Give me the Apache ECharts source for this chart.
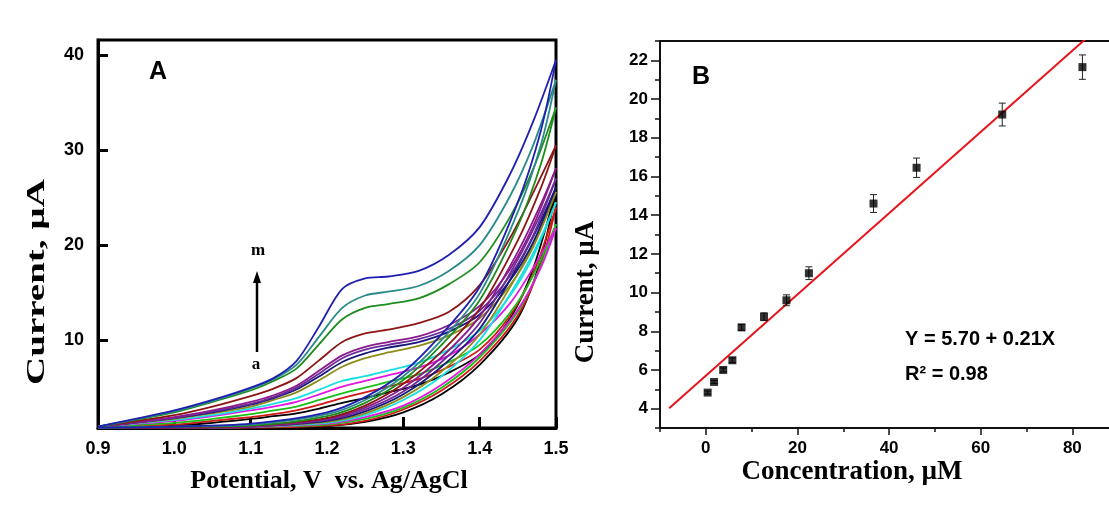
<!DOCTYPE html>
<html><head><meta charset="utf-8">
<script src="https://cdn.jsdelivr.net/npm/echarts@6/dist/echarts.min.js"></script>
<style>html,body{margin:0;padding:0;background:#fff}#c{width:1109px;height:508px}</style>
</head><body><div id="c"></div>
<script>
// ---------- Panel A: cyclic voltammograms (a .. m) ----------
const POTENTIAL_FWD = [0.90, 1.00, 1.05, 1.10, 1.13, 1.16, 1.19, 1.22, 1.25, 1.28, 1.32, 1.36, 1.40, 1.44, 1.47, 1.50];
const POTENTIAL_REV = [1.50, 1.48, 1.45, 1.40, 1.35, 1.30, 1.25, 1.20, 1.10, 1.00, 0.90];

const CV_A_FWD = [0.9, 1.0, 1.3, 1.7, 2.0, 2.3, 2.8, 3.4, 3.9, 4.5, 5.3, 6.6, 8.5, 12.3, 17.5, 25.8];
const CV_B_FWD = [0.9, 1.1, 1.5, 1.9, 2.2, 2.6, 3.2, 3.9, 4.5, 5.1, 5.9, 7.2, 9.0, 12.6, 17.0, 24.0];
const CV_C_FWD = [0.9, 1.3, 1.7, 2.2, 2.6, 3.0, 3.7, 4.4, 5.0, 5.6, 6.4, 7.7, 9.5, 12.9, 16.8, 22.2];
const CV_D_FWD = [0.9, 1.5, 2.0, 2.6, 3.0, 3.5, 4.3, 5.1, 5.7, 6.3, 7.1, 8.4, 10.6, 13.9, 17.6, 21.8];
const CV_E_FWD = [0.9, 1.6, 2.1, 2.8, 3.3, 3.9, 4.8, 5.7, 6.2, 6.8, 7.6, 9.0, 11.0, 14.7, 18.8, 24.5];
const CV_F_FWD = [0.9, 1.7, 2.3, 3.0, 3.7, 4.5, 5.8, 7.2, 8.1, 8.7, 9.4, 10.5, 12.3, 15.8, 19.8, 25.6];
const CV_G_FWD = [0.9, 1.8, 2.4, 3.2, 3.9, 4.8, 6.2, 7.7, 8.6, 9.2, 9.8, 10.9, 12.7, 16.3, 20.3, 26.1];
const CV_H_FWD = [0.9, 1.8, 2.5, 3.3, 4.0, 5.0, 6.5, 8.1, 9.0, 9.5, 10.1, 11.2, 13.1, 16.8, 21.0, 27.0];
const CV_I_FWD = [0.9, 1.9, 2.6, 3.5, 4.2, 5.2, 6.8, 8.4, 9.3, 9.8, 10.4, 11.6, 13.6, 17.5, 22.0, 28.1];
const CV_J_FWD = [0.9, 2.1, 3.0, 4.1, 4.9, 6.0, 7.9, 9.8, 10.7, 11.1, 11.8, 13.0, 15.8, 20.8, 25.5, 30.5];
const CV_K_FWD = [0.9, 2.4, 3.5, 4.7, 5.7, 7.0, 9.6, 12.2, 13.4, 13.8, 14.4, 15.9, 18.2, 23.0, 28.0, 34.5];
const CV_L_FWD = [0.9, 2.5, 3.6, 4.9, 5.9, 7.4, 10.4, 13.4, 14.7, 15.1, 15.7, 17.3, 20.0, 25.2, 30.5, 37.4];
const CV_M_FWD = [0.9, 2.6, 3.7, 5.0, 6.0, 7.8, 11.5, 15.4, 16.5, 16.7, 17.3, 19.0, 21.9, 27.5, 33.0, 39.5];

const CV_A_REV = [25.8, 18.5, 12.3, 7.4, 4.3, 2.4, 1.4, 0.95, 0.8, 0.8, 0.8];
const CV_B_REV = [24.0, 18.0, 12.6, 7.8, 4.7, 2.7, 1.5, 1.0, 0.8, 0.8, 0.8];
const CV_C_REV = [22.2, 17.8, 13.0, 8.2, 5.0, 2.9, 1.7, 1.1, 0.85, 0.8, 0.8];
const CV_D_REV = [21.8, 17.6, 13.2, 8.5, 5.3, 3.1, 1.9, 1.2, 0.85, 0.8, 0.8];
const CV_E_REV = [24.5, 20.8, 16.2, 10.0, 6.2, 3.7, 2.1, 1.3, 0.9, 0.8, 0.8];
const CV_F_REV = [25.6, 21.8, 17.0, 10.6, 6.7, 4.0, 2.3, 1.4, 0.9, 0.8, 0.8];
const CV_G_REV = [26.1, 22.5, 17.8, 11.2, 7.2, 4.3, 2.5, 1.5, 0.9, 0.8, 0.8];
const CV_H_REV = [27.0, 23.3, 18.5, 11.8, 7.7, 4.6, 2.7, 1.6, 0.9, 0.8, 0.8];
const CV_I_REV = [28.1, 24.3, 19.3, 12.5, 8.2, 5.0, 2.9, 1.7, 0.9, 0.8, 0.8];
const CV_J_REV = [30.5, 26.0, 20.5, 13.3, 8.8, 5.4, 3.1, 1.8, 1.0, 0.8, 0.8];
const CV_K_REV = [34.5, 28.5, 22.0, 14.2, 9.5, 5.8, 3.4, 2.0, 1.0, 0.9, 0.8];
const CV_L_REV = [37.4, 30.5, 23.5, 14.9, 10.0, 6.2, 3.7, 2.2, 1.1, 0.9, 0.8];
const CV_M_REV = [39.5, 32.0, 24.5, 15.6, 10.6, 6.6, 4.0, 2.4, 1.2, 0.9, 0.8];

const A_Y_TICKS = [10, 20, 30, 40];

// ---------- Panel B: calibration ----------
const CONC = [0.4, 1.8, 3.8, 5.8, 7.8, 12.7, 17.6, 22.5, 36.6, 46.0, 64.7, 82.2];
const CURRENT = [4.83, 5.38, 6.0, 6.5, 8.2, 8.75, 9.6, 11.0, 14.6, 16.45, 19.2, 21.65];
const CURRENT_ERR = [0.08, 0.08, 0.1, 0.12, 0.15, 0.2, 0.28, 0.33, 0.46, 0.5, 0.59, 0.63];
const FIT_INTERCEPT = 5.70;
const FIT_SLOPE = 0.21;
const FIT_X = [-8, 83];
const B_X_TICKS = [0, 20, 40, 60, 80];
const B_X_MINOR = [-10, 10, 30, 50, 70];
const B_Y_TICKS = [4, 6, 8, 10, 12, 14, 16, 18, 20, 22];
const B_Y_MINOR = [3, 5, 7, 9, 11, 13, 15, 17, 19, 21, 23];

const FWD = [CV_A_FWD, CV_B_FWD, CV_C_FWD, CV_D_FWD, CV_E_FWD, CV_F_FWD, CV_G_FWD, CV_H_FWD, CV_I_FWD, CV_J_FWD, CV_K_FWD, CV_L_FWD, CV_M_FWD];
const REV = [CV_A_REV, CV_B_REV, CV_C_REV, CV_D_REV, CV_E_REV, CV_F_REV, CV_G_REV, CV_H_REV, CV_I_REV, CV_J_REV, CV_K_REV, CV_L_REV, CV_M_REV];
const COLORS = ['#000000', '#d01818', '#18c018', '#e018e0', '#18e0e0', '#8c8c1a', '#18187c', '#6a2a9a', '#8c1a8c', '#8c1616', '#1e8c1e', '#2a8a8a', '#2020b0'];

const SANS = '"Liberation Sans", Arial, sans-serif';
const SERIF = '"Liberation Serif", "Times New Roman", serif';

const series = [];
FWD.forEach((arr, i) => {
  series.push({
    type: 'line', xAxisIndex: 0, yAxisIndex: 0, smooth: 0.3, showSymbol: false,
    data: POTENTIAL_FWD.map((x, j) => [x, arr[j]]),
    lineStyle: { color: COLORS[i], width: 1.8 }, itemStyle: { color: COLORS[i] }, z: 2
  });
  series.push({
    type: 'line', xAxisIndex: 0, yAxisIndex: 0, smooth: 0.3, showSymbol: false,
    data: POTENTIAL_REV.map((x, j) => [x, REV[i][j]]),
    lineStyle: { color: COLORS[i], width: 1.8 }, itemStyle: { color: COLORS[i] }, z: 2
  });
});

series.push({
  type: 'line', xAxisIndex: 1, yAxisIndex: 1, showSymbol: false, z: 3,
  data: FIT_X.map(x => [x, FIT_INTERCEPT + FIT_SLOPE * x]),
  lineStyle: { color: '#e8141c', width: 2 }, itemStyle: { color: '#e8141c' }
});
series.push({
  type: 'custom', xAxisIndex: 1, yAxisIndex: 1, z: 4,
  data: CONC.map((c, i) => [c, CURRENT[i] - CURRENT_ERR[i], CURRENT[i] + CURRENT_ERR[i]]),
  encode: { x: 0, y: [1, 2] },
  renderItem: (params, api) => {
    const lo = api.coord([api.value(0), api.value(1)]);
    const hi = api.coord([api.value(0), api.value(2)]);
    const w = 3.5;
    const st = { stroke: '#222', lineWidth: 1 };
    return { type: 'group', children: [
      { type: 'line', shape: { x1: lo[0], y1: lo[1], x2: hi[0], y2: hi[1] }, style: st },
      { type: 'line', shape: { x1: lo[0] - w, y1: lo[1], x2: lo[0] + w, y2: lo[1] }, style: st },
      { type: 'line', shape: { x1: hi[0] - w, y1: hi[1], x2: hi[0] + w, y2: hi[1] }, style: st }
    ]};
  }
});
series.push({
  type: 'scatter', xAxisIndex: 1, yAxisIndex: 1, z: 5, symbol: 'rect', symbolSize: 8,
  data: CONC.map((c, i) => [c, CURRENT[i]]), itemStyle: { color: '#000' }
});

const option = {
  animation: false,
  backgroundColor: '#fff',
  grid: [
    { left: 98, top: 40, right: 553, bottom: 80, show: true, borderColor: '#000', borderWidth: 3 },
    { left: 660, top: 41, right: 0, bottom: 80 }
  ],
  xAxis: [
    { gridIndex: 0, type: 'value', min: 0.9, max: 1.5, interval: 0.1,
      axisLine: { onZero: false, lineStyle: { color: '#000', width: 3 } },
      axisTick: { inside: true, length: 11, lineStyle: { color: '#000', width: 3 } },
      axisLabel: { margin: 12, color: '#000', fontSize: 18, fontWeight: 'bold', fontFamily: SANS,
        showMinLabel: true, showMaxLabel: true, formatter: v => v.toFixed(1) },
      splitLine: { show: false } },
    { gridIndex: 1, type: 'value', min: -10, max: 88, position: 'bottom',
      axisLine: { onZero: false, lineStyle: { color: '#111', width: 2 } },
      axisTick: { length: 7, customValues: B_X_TICKS, lineStyle: { color: '#111', width: 1.5 } },
      axisLabel: { margin: 12, customValues: B_X_TICKS, color: '#000', fontSize: 17, fontWeight: 'bold', fontFamily: SANS },
      splitLine: { show: false } },
    { gridIndex: 1, type: 'value', min: -10, max: 88, position: 'bottom',
      axisLine: { show: false, onZero: false },
      axisTick: { length: 4, customValues: B_X_MINOR, lineStyle: { color: '#111', width: 1.5 } },
      axisLabel: { show: false }, splitLine: { show: false } },
    { gridIndex: 1, type: 'value', min: -10, max: 88, position: 'top',
      axisLine: { onZero: false, lineStyle: { color: '#111', width: 2 } },
      axisTick: { show: false }, axisLabel: { show: false }, splitLine: { show: false } }
  ],
  yAxis: [
    { gridIndex: 0, type: 'value', min: 0.75, max: 41.6,
      axisLine: { onZero: false, lineStyle: { color: '#000', width: 3 } },
      axisTick: { inside: true, length: 10, customValues: A_Y_TICKS, lineStyle: { color: '#000', width: 3 } },
      axisLabel: { margin: 14, customValues: A_Y_TICKS, color: '#000', fontSize: 18, fontWeight: 'bold', fontFamily: SANS },
      splitLine: { show: false } },
    { gridIndex: 1, type: 'value', min: 3, max: 23, position: 'left',
      axisLine: { onZero: false, lineStyle: { color: '#111', width: 2 } },
      axisTick: { length: 9, customValues: B_Y_TICKS, lineStyle: { color: '#111', width: 1.5 } },
      axisLabel: { margin: 12, customValues: B_Y_TICKS, color: '#000', fontSize: 17, fontWeight: 'bold', fontFamily: SANS },
      splitLine: { show: false } },
    { gridIndex: 1, type: 'value', min: 3, max: 23, position: 'left',
      axisLine: { show: false, onZero: false },
      axisTick: { length: 5, customValues: B_Y_MINOR, lineStyle: { color: '#111', width: 1.5 } },
      axisLabel: { show: false }, splitLine: { show: false } }
  ],
  graphic: [
    { type: 'text', x: 158, y: 72, style: { text: 'A', font: 'bold 25px ' + SANS, fill: '#000', textAlign: 'center', textVerticalAlign: 'middle' } },
    { type: 'text', x: 701, y: 77, style: { text: 'B', font: 'bold 25px ' + SANS, fill: '#000', textAlign: 'center', textVerticalAlign: 'middle' } },
    { type: 'text', x: 905, y: 339, style: { text: 'Y = 5.70 + 0.21X', font: 'bold 20px ' + SANS, fill: '#000', textAlign: 'left', textVerticalAlign: 'middle' } },
    { type: 'text', x: 905, y: 374, style: { text: 'R\u00B2 = 0.98', font: 'bold 20px ' + SANS, fill: '#000', textAlign: 'left', textVerticalAlign: 'middle' } },
    { type: 'text', x: 329, y: 481, style: { text: 'Potential, V  vs. Ag/AgCl', font: 'bold 26px ' + SERIF, fill: '#000', textAlign: 'center', textVerticalAlign: 'middle' } },
    { type: 'text', x: 852, y: 472, style: { text: 'Concentration, \u00B5M', font: 'bold 27px ' + SERIF, fill: '#000', textAlign: 'center', textVerticalAlign: 'middle' } },
    { type: 'text', x: 37, y: 282, rotation: Math.PI / 2, scaleX: 1.5, style: { text: 'Current, \u00B5A', font: 'bold 26px ' + SERIF, fill: '#000', textAlign: 'center', textVerticalAlign: 'middle' } },
    { type: 'text', x: 586, y: 292, rotation: Math.PI / 2, style: { text: 'Current, \u00B5A', font: 'bold 27px ' + SERIF, fill: '#000', textAlign: 'center', textVerticalAlign: 'middle' } },
    { type: 'line', shape: { x1: 257, y1: 352, x2: 257, y2: 280 }, style: { stroke: '#000', lineWidth: 2.5 } },
    { type: 'polygon', shape: { points: [[257, 271], [253, 283], [261, 283]] }, style: { fill: '#000' } },
    { type: 'text', x: 258, y: 251, style: { text: 'm', font: 'bold 17px ' + SERIF, fill: '#000', textAlign: 'center', textVerticalAlign: 'middle' } },
    { type: 'text', x: 256, y: 365, style: { text: 'a', font: 'bold 17px ' + SERIF, fill: '#000', textAlign: 'center', textVerticalAlign: 'middle' } }
  ],
  series
};
const chart = echarts.init(document.getElementById('c'), null, { renderer: 'canvas' });
chart.setOption(option);
</script></body></html>
